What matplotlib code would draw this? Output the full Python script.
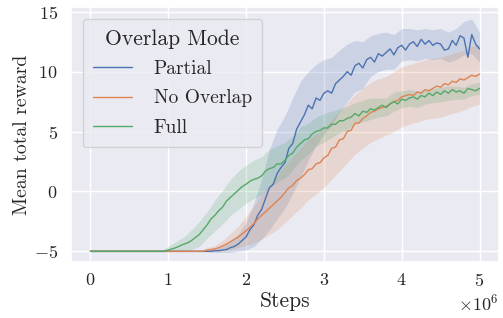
import numpy as np
import matplotlib
matplotlib.use("Agg")
from matplotlib import pyplot as plt
import seaborn as sns

sns.set_theme(style="darkgrid")
plt.rcParams["font.family"] = "serif"
plt.rcParams["font.serif"] = ["cmr10", "DejaVu Serif"]
plt.rcParams["mathtext.fontset"] = "cm"
plt.rcParams["axes.formatter.use_mathtext"] = True

# mean curves, sampled every 0.05e6 steps
steps = np.linspace(0, 5e6, 101)
partial_mean = [-5.0] * 32 + [
    -4.95, -4.95, -4.9, -4.85, -4.7, -4.6, -4.4, -4.1,
    -3.8, -3.2, -2.8, -2.0, -1.5, -0.6, 0.3, 0.6, 1.5, 2.0,
    2.4, 3.6, 4.0, 5.2, 5.8, 6.4, 7.2, 6.9, 7.8, 7.6,
    8.2, 8.4, 8.2, 9.0, 9.3, 9.6, 10.0, 9.7, 10.5, 10.7,
    10.3, 11.0, 11.2, 10.8, 11.5, 11.3, 11.6, 11.9, 11.4, 12.0,
    12.2, 11.8, 12.3, 12.5, 12.1, 12.7, 12.3, 12.6, 12.2, 12.4,
    12.3, 11.8, 11.9, 12.6, 12.2, 13.0, 12.8, 11.2, 13.1, 12.3,
    11.9]
no_overlap_mean = [-5.0] * 30 + [
    -4.9, -4.85, -4.8, -4.7, -4.55, -4.4, -4.2, -4.0, -3.8, -3.55,
    -3.3, -3.0, -2.7, -2.3, -2.0, -1.7, -1.4, -1.1, -0.8, -0.5,
    -0.1, 0.3, 0.5, 0.9, 1.1, 1.4, 1.8, 1.9, 2.3, 2.4,
    2.8, 3.0, 3.6, 3.7, 4.3, 4.4, 5.0, 5.1, 5.7, 5.7,
    6.1, 6.3, 6.6, 6.7, 6.9, 7.0, 7.1, 7.3, 7.5, 7.6,
    7.9, 8.0, 8.1, 8.0, 8.3, 8.2, 8.5, 8.4, 8.6, 8.8,
    8.7, 9.0, 8.9, 9.2, 9.1, 9.4, 9.3, 9.5, 9.7, 9.6,
    9.8]
full_mean = [-5.0] * 20 + [
    -4.9, -4.8, -4.7, -4.55, -4.4, -4.3, -4.1, -3.85, -3.6, -3.2,
    -2.8, -2.3, -2.0, -1.6, -1.3, -0.8, -0.5, -0.2, 0.1, 0.4,
    0.6, 0.85, 1.0, 1.1, 1.3, 1.7, 1.9, 2.0, 2.3, 2.3,
    2.6, 3.0, 3.2, 3.7, 4.0, 4.3, 4.4, 4.8, 5.0, 5.1,
    5.3, 5.3, 5.6, 5.6, 5.9, 5.9, 6.1, 6.2, 6.5, 6.3,
    6.7, 6.6, 6.9, 6.8, 7.0, 7.2, 7.0, 7.3, 7.5, 7.3,
    7.7, 7.6, 7.8, 7.9, 7.7, 8.0, 7.9, 8.2, 8.0, 8.3,
    8.1, 8.4, 8.2, 8.5, 8.3, 8.4, 8.2, 8.6, 8.5, 8.4,
    8.6]

# shaded bands, sampled every 0.1e6 steps
band_steps = np.linspace(0, 5e6, 51)
partial_lo = [-5.05] * 16 + [-5.1, -5.1, -5.1, -5.0,
    -4.9, -4.6, -4.0, -3.2, -2.3, -1.4, -0.2, 1.2, 2.6, 3.8,
    4.8, 5.5, 6.6, 7.5, 8.3, 8.6, 9.6, 10.0, 10.2, 10.2,
    10.9, 11.0, 10.9, 11.1, 11.0, 11.1, 10.8, 11.0, 11.4, 11.5,
    10.8]
partial_hi = [-4.95] * 16 + [-4.8, -4.6, -4.2, -3.6,
    -2.6, -1.0, 1.0, 3.5, 5.2, 6.3, 7.8, 9.2, 10.0, 10.6,
    11.0, 11.2, 11.8, 12.3, 12.6, 12.5, 13.0, 13.2, 13.3, 13.1,
    13.6, 13.6, 13.5, 13.6, 13.5, 13.6, 13.3, 13.6, 14.2, 14.4,
    13.3]
no_overlap_lo = [-5.05] * 17 + [-5.0, -4.9, -4.7,
    -4.5, -4.3, -4.0, -3.6, -3.2, -2.6, -2.0, -1.4, -0.7, -0.2,
    0.3, 1.0, 1.7, 2.4, 3.1, 3.6, 4.1, 4.4, 4.7, 5.0,
    5.4, 5.6, 5.8, 6.0, 6.1, 6.2, 6.4, 6.6, 6.8, 7.1,
    7.3]
no_overlap_hi = [-4.95] * 15 + [-4.7, -4.5, -4.1, -3.5, -2.9,
    -2.1, -1.2, -0.3, 0.5, 1.3, 2.2, 2.9, 3.6, 4.3, 4.8,
    5.3, 6.0, 6.7, 7.4, 8.1, 8.6, 9.1, 9.4, 9.6, 10.0,
    10.4, 10.6, 10.8, 11.0, 11.1, 11.2, 11.4, 11.6, 11.8, 12.1,
    12.3]
full_lo = [-5.05] * 10 + [
    -5.0, -5.0, -4.95, -4.85, -4.6, -3.9, -3.3, -2.7, -2.0, -1.5,
    -1.0, -0.6, -0.3, 0.3, 0.8, 1.1, 1.8, 2.6, 3.1, 3.8,
    4.1, 4.5, 4.9, 5.1, 5.6, 5.8, 6.0, 6.2, 6.3, 6.7,
    7.0, 7.1, 7.0, 7.3, 7.4, 7.5, 7.6, 7.7, 7.7, 8.0,
    8.1]
full_hi = [-4.95] * 10 + [
    -4.6, -4.2, -3.8, -3.2, -2.5, -1.7, -0.7, 0.1, 1.0, 1.7,
    2.2, 2.6, 2.9, 3.5, 3.8, 4.1, 4.6, 5.4, 5.7, 6.2,
    6.5, 6.7, 6.9, 7.1, 7.4, 7.6, 7.8, 7.8, 7.8, 8.3,
    8.4, 8.5, 8.4, 8.5, 8.6, 8.7, 8.8, 8.8, 8.7, 9.0,
    9.1]

labels = ["Partial", "No Overlap", "Full"]
means = [partial_mean, no_overlap_mean, full_mean]
lows = [partial_lo, no_overlap_lo, full_lo]
highs = [partial_hi, no_overlap_hi, full_hi]
colors = sns.color_palette("deep")[:3]

fig, ax = plt.subplots(figsize=(5.03, 3.18), dpi=100)
fig.subplots_adjust(left=0.141, right=0.992, top=0.978, bottom=0.176)

for lab, m, lo, hi, c in zip(labels, means, lows, highs, colors):
    ax.fill_between(band_steps, lo, hi, color=c, alpha=0.2, linewidth=0)
    ax.plot(steps, m, color=c, linewidth=1.0, label=lab)

ax.set_xlim(-0.25e6, 5.25e6)
ax.set_ylim(-5.9, 15.4)
ax.set_xticks([0, 1e6, 2e6, 3e6, 4e6, 5e6])
ax.set_yticks([-5, 0, 5, 10, 15])
ax.tick_params(labelsize=13)
ax.tick_params(axis="x", pad=1)
ax.xaxis.get_offset_text().set_fontsize(13)
ax.set_xlabel("Steps", fontsize=15.5, labelpad=2)
ax.set_ylabel("Mean total reward", fontsize=14.2, labelpad=2)

leg = ax.legend(title="Overlap Mode", loc="upper left", fontsize=14,
                title_fontsize=15.5, frameon=True, labelspacing=0.58,
                handletextpad=1.1, borderpad=0.55, borderaxespad=0.6)

plt.savefig("out.png")
